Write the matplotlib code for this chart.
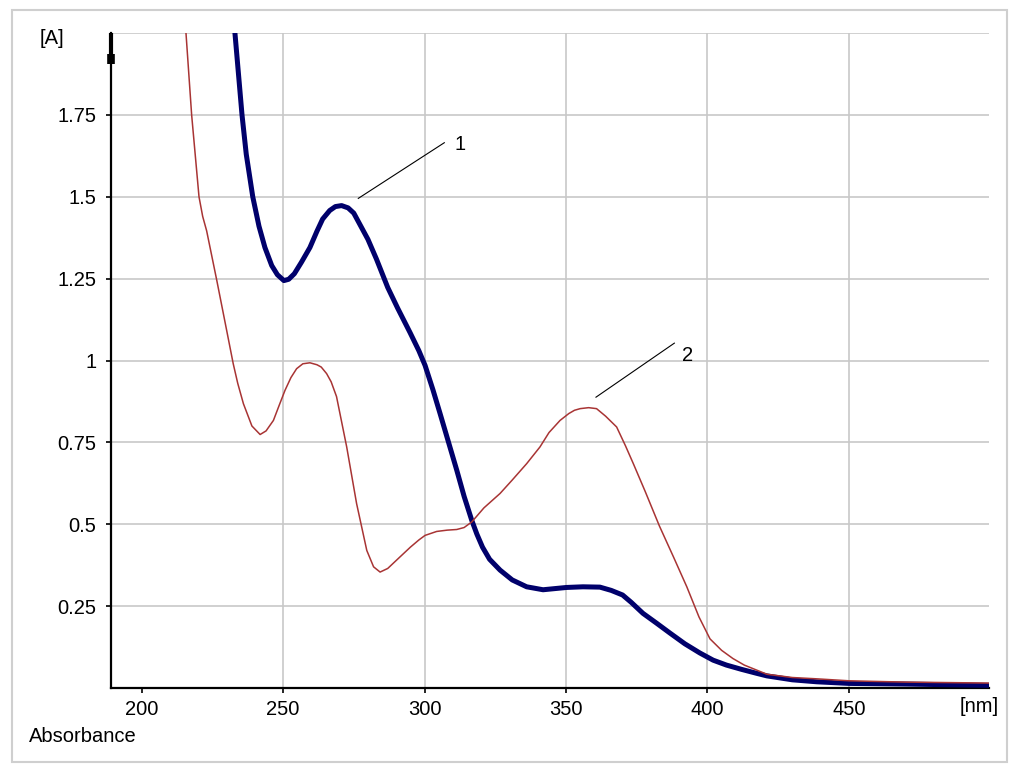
import numpy as np
import matplotlib
matplotlib.use("Agg")
import matplotlib.pyplot as plt
from matplotlib.patches import Rectangle

plt.rcParams['font.family'] = ['Liberation Sans', 'DejaVu Sans']

# spectrum 1 (thick navy)
nm1 = [231, 233, 235.5, 237, 239.3, 241.5, 243.6, 246, 248, 250.3, 252, 254, 256.5, 259.5,
       262, 264, 266.5, 268.5, 270.7, 273, 275, 277, 280, 283, 287, 290.5, 294.9, 298, 300.2,
       303, 305.5, 308.5, 311.4, 314, 316.7, 318.5, 320.5, 323, 326.7, 331, 336.1, 341.9,
       350.2, 356, 362, 366, 370, 373, 377.2, 382, 386.7, 392, 397.3, 402, 406.7, 412,
       417.3, 421, 430, 438.6, 450, 470, 485, 500]
abs1 = [2.10, 2.00, 1.75, 1.63, 1.50, 1.41, 1.345, 1.29, 1.262, 1.244, 1.248, 1.265, 1.30, 1.345,
        1.395, 1.432, 1.458, 1.47, 1.473, 1.466, 1.45, 1.418, 1.37, 1.31, 1.223, 1.16, 1.085, 1.03, 0.985,
        0.91, 0.838, 0.75, 0.665, 0.585, 0.512, 0.47, 0.43, 0.393, 0.36, 0.33, 0.309, 0.30,
        0.307, 0.309, 0.308, 0.298, 0.284, 0.262, 0.228, 0.198, 0.168, 0.135, 0.107, 0.085, 0.07, 0.057,
        0.045, 0.037, 0.025, 0.019, 0.014, 0.012, 0.010, 0.008]

# spectrum 2 (thin red)
nm2 = [213, 215.7, 217.7, 220.3, 221.6, 223, 226.6, 230.1, 232.4, 234, 236, 239, 241.9, 244,
       246.6, 248.5, 250.7, 252.8, 254.8, 257, 259.5, 262, 263.5, 265.4, 267, 268.9, 272.5, 276,
       279.6, 282, 284.3, 287, 291.3, 295, 298, 300.2, 304.3, 308, 311.4, 314, 316.7, 321,
       326.7, 331, 336.1, 340.8, 344, 347.9, 351, 353, 355, 358, 360.8, 364, 367.9, 371,
       373.8, 378, 383, 388, 392.7, 397, 400.9, 405, 409, 413, 417.3, 421, 430, 438.6,
       450, 470, 490, 500]
abs2 = [2.15, 2.00, 1.75, 1.50, 1.44, 1.396, 1.244, 1.091, 0.99, 0.93, 0.868, 0.80, 0.774, 0.785,
        0.817, 0.86, 0.909, 0.948, 0.975, 0.99, 0.993, 0.987, 0.98, 0.96, 0.935, 0.89, 0.736, 0.563,
        0.42, 0.37, 0.354, 0.365, 0.40, 0.43, 0.452, 0.466, 0.478, 0.482, 0.484, 0.49, 0.507, 0.55,
        0.594, 0.635, 0.685, 0.736, 0.78, 0.817, 0.838, 0.848, 0.853, 0.856, 0.853, 0.83, 0.797, 0.74,
        0.685, 0.60, 0.495, 0.40, 0.309, 0.217, 0.150, 0.115, 0.09, 0.07, 0.055, 0.042, 0.032, 0.028,
        0.022, 0.018, 0.016, 0.015]

xticks = [200, 250, 300, 350, 400, 450]
yticks = [0.25, 0.5, 0.75, 1, 1.25, 1.5, 1.75]
ytick_labels = ['0.25', '0.5', '0.75', '1', '1.25', '1.5', '1.75']

fig = plt.figure(figsize=(10.09, 7.64), dpi=100)
fig.patch.set_facecolor('white')
fig.patches.append(Rectangle((12/1009, 2/764), 995/1009, 752/764, transform=fig.transFigure,
                             fill=False, edgecolor='#cfcfcf', lw=1.5))

ax = fig.add_axes([111/1009, 76/764, 878/1009, 655/764])
ax.set_xlim(189.2, 499.5)
ax.set_ylim(0, 2.0)

# grid
for gx in [250, 300, 350, 400, 450]:
    ax.axvline(gx, color='#c8c8c8', lw=1.2, zorder=0)
for gy in yticks + [2.0]:
    ax.axhline(gy, color='#c8c8c8', lw=1.2, zorder=0)

ax.plot(nm1, abs1, color='#00006b', lw=3.6, solid_joinstyle='round', zorder=3)
ax.plot(nm2, abs2, color='#a83434', lw=1.1, zorder=4)

# labels of the curves
ax.plot([276.6, 307], [1.495, 1.665], color='black', lw=0.8, zorder=5)
ax.text(310.5, 1.66, '1', fontsize=14.5, va='center', ha='left')
ax.plot([360.6, 388.3], [0.888, 1.053], color='black', lw=0.8, zorder=5)
ax.text(391, 1.015, '2', fontsize=14.5, va='center', ha='left')

for s in ['top', 'right']:
    ax.spines[s].set_visible(False)
for s in ['left', 'bottom']:
    ax.spines[s].set_linewidth(1.6)

ax.set_xticks(xticks)
ax.set_xticklabels([str(v) for v in xticks])
ax.set_yticks(yticks)
ax.set_yticklabels(ytick_labels)
ax.tick_params(axis='both', direction='out', length=3.5, width=1.2, labelsize=14.5)
ax.tick_params(axis='y', pad=7)
ax.tick_params(axis='x', pad=5)

# arrow mark on top of y axis
ax.plot([189.2, 189.2], [1.935, 2.0], color='black', lw=3, solid_capstyle='butt', clip_on=False, zorder=6)
ax.plot([189.2, 189.2], [1.905, 1.935], color='black', lw=5.5, solid_capstyle='butt', clip_on=False, zorder=6)

fig.text(52/1009, 1 - 38/764, '[A]', fontsize=14.5, ha='center', va='center')
fig.text(979/1009, 1 - 706/764, '[nm]', fontsize=14.5, ha='center', va='center')
fig.text(29/1009, 1 - 737/764, 'Absorbance', fontsize=14.5, ha='left', va='center')

fig.savefig('out.png', dpi=100)
